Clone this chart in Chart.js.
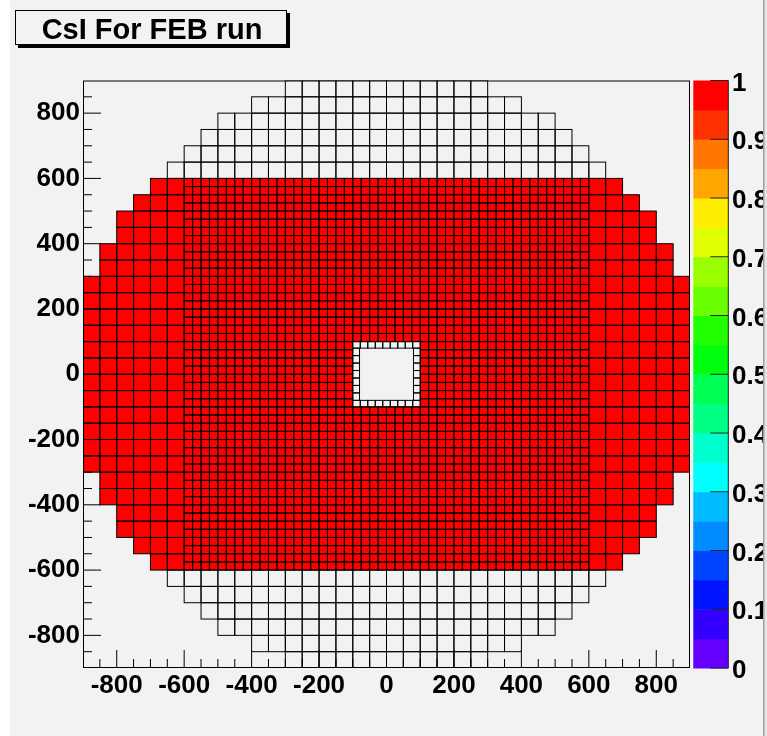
<!DOCTYPE html>
<html>
<head>
<meta charset="utf-8">
<title>CsI For FEB run</title>
<script src="https://cdn.jsdelivr.net/npm/chart.js@4.4.1/dist/chart.umd.min.js"></script>
<style>
  html, body { margin: 0; padding: 0; background: #f2f2f2; }
  canvas { display: block; }
</style>
</head>
<body>
<canvas id="csiMap" width="767" height="736"></canvas>
<script>
// axis ticks (mm) and colour scale ticks
const xTicks = [-800, -600, -400, -200, 0, 200, 400, 600, 800];
const yTicks = [-800, -600, -400, -200, 0, 200, 400, 600, 800];
const zTicks = [0, 0.1, 0.2, 0.3, 0.4, 0.5, 0.6, 0.7, 0.8, 0.9, 1];

// 20 contour colours, from 0 up to 1
const paletteColors = [
  "#6300ff", "#3300ff", "#0014ff", "#0044ff", "#008bff",
  "#00bbff", "#00fffc", "#00ffcc", "#00ff85", "#00ff55",
  "#00ff0e", "#22ff00", "#69ff00", "#99ff00", "#e0ff00",
  "#ffee00", "#ffa700", "#ff7700", "#ff3000", "#ff0000",
];

// large crystals (50 mm) left and right of the small block:
// lower edge of each row and how far out it reaches
const sideRowY = [
  -600, -550, -500, -450, -400, -350, -300, -250, -200, -150, -100, -50,
  0, 50, 100, 150, 200, 250, 300, 350, 400, 450, 500, 550,
];
const sideRowEdge = [
  700, 750, 800, 800, 850, 850, 900, 900, 900, 900, 900, 900,
  900, 900, 900, 900, 900, 900, 850, 850, 800, 800, 750, 700,
];
const sideRowValue = 1;

// large crystals above and below the small block
const capRowY = [-900, -850, -800, -750, -700, -650, 600, 650, 700, 750, 800, 850];
const capRowHalf = [300, 400, 500, 550, 600, 650, 650, 600, 550, 500, 400, 300];
const capRowValue = 0;

// small crystals (25 mm) inside |x|,|y| < 600, beam hole left out
const smallHalf = 600;
const holeHalf = 100;
const smallValue = 1;

// collar around the beam hole
const collarOuter = 100;
const collarInner = 80;
const collarRowCells = 9;
const collarColCells = 7;
const collarValue = 0;

const LARGE = 50;
const SMALL = 25;

const cells = [];
function addCell(x0, x1, y0, y1, v) {
  cells.push({ x: (x0 + x1) / 2, y: (y0 + y1) / 2, x0, x1, y0, y1, v });
}

sideRowY.forEach((y0, i) => {
  for (let x = -sideRowEdge[i]; x < -smallHalf; x += LARGE) {
    addCell(x, x + LARGE, y0, y0 + LARGE, sideRowValue);
    addCell(-x - LARGE, -x, y0, y0 + LARGE, sideRowValue);
  }
});

capRowY.forEach((y0, i) => {
  for (let x = -capRowHalf[i]; x < capRowHalf[i]; x += LARGE) {
    addCell(x, x + LARGE, y0, y0 + LARGE, capRowValue);
  }
});

for (let y = -smallHalf; y < smallHalf; y += SMALL) {
  for (let x = -smallHalf; x < smallHalf; x += SMALL) {
    const inHole = x >= -holeHalf && x < holeHalf && y >= -holeHalf && y < holeHalf;
    if (!inHole) addCell(x, x + SMALL, y, y + SMALL, smallValue);
  }
}

const rowStep = (2 * collarOuter) / collarRowCells;
for (let k = 0; k < collarRowCells; k++) {
  const x0 = -collarOuter + k * rowStep;
  addCell(x0, x0 + rowStep, collarInner, collarOuter, collarValue);
  addCell(x0, x0 + rowStep, -collarOuter, -collarInner, collarValue);
}
const colStep = (2 * collarInner) / collarColCells;
for (let k = 0; k < collarColCells; k++) {
  const y0 = -collarInner + k * colStep;
  addCell(-collarOuter, -collarInner, y0, y0 + colStep, collarValue);
  addCell(collarInner, collarOuter, y0, y0 + colStep, collarValue);
}

function colorFor(v) {
  const n = paletteColors.length;
  return paletteColors[Math.min(n - 1, Math.floor(v * n))];
}

const labelFont = { family: '"Liberation Sans", Arial, Helvetica, sans-serif', size: 26, weight: "bold" };

// page background, title box, right window edge
const framePlugin = {
  id: "framePlugin",
  beforeDraw(chart) {
    const ctx = chart.ctx;
    ctx.save();
    ctx.fillStyle = "#f2f2f2";
    ctx.fillRect(0, 0, chart.width, chart.height);
    ctx.fillStyle = "#ffffff";
    ctx.fillRect(0, 0, 10, chart.height);
    ctx.restore();
  },
  afterDraw(chart) {
    const ctx = chart.ctx;
    ctx.save();
    // title box with shadow
    ctx.fillStyle = "#000";
    ctx.fillRect(18, 13, 272, 35);
    ctx.fillStyle = "#f2f2f2";
    ctx.fillRect(15, 10, 272, 35);
    ctx.strokeStyle = "#000";
    ctx.lineWidth = 1;
    ctx.strokeRect(15.5, 10.5, 271, 34);
    ctx.fillStyle = "#000";
    ctx.font = 'bold 29px "Liberation Sans", Arial, Helvetica, sans-serif';
    ctx.textAlign = "center";
    ctx.textBaseline = "middle";
    ctx.fillText("CsI For FEB run", 152, 31);
    // window edge on the right
    ctx.fillStyle = "#e4e4e4";
    ctx.fillRect(763, 0, 4, chart.height);
    ctx.fillStyle = "#a0a0a0";
    ctx.fillRect(763, 0, 1.5, chart.height);
    ctx.restore();
  },
};

// crystal boxes, frame, inward ticks and the colour bar
const mapPlugin = {
  id: "mapPlugin",
  afterDatasetsDraw(chart) {
    const { ctx, chartArea: area } = chart;
    const xs = chart.scales.x;
    const ys = chart.scales.y;
    const zs = chart.scales.z;
    const data = chart.data.datasets[0].data;

    ctx.save();
    ctx.beginPath();
    ctx.rect(area.left, area.top, area.right - area.left, area.bottom - area.top);
    ctx.clip();

    const boxes = data.map((c) => {
      const l = xs.getPixelForValue(c.x0);
      const r = xs.getPixelForValue(c.x1);
      const t = ys.getPixelForValue(c.y1);
      const b = ys.getPixelForValue(c.y0);
      return { l, t, w: r - l, h: b - t, v: c.v };
    });
    boxes.forEach((b) => {
      if (b.v > 0) {
        ctx.fillStyle = colorFor(b.v);
        ctx.fillRect(b.l, b.t, b.w, b.h);
      }
    });
    ctx.strokeStyle = "#000";
    ctx.lineWidth = 1;
    boxes.forEach((b) => ctx.strokeRect(b.l, b.t, b.w, b.h));
    ctx.restore();

    ctx.save();
    ctx.strokeStyle = "#000";
    ctx.lineWidth = 1;
    // ticks every 50 mm, long ones on the labelled values
    ctx.beginPath();
    for (let v = -850; v <= 850; v += 50) {
      const len = v % 200 === 0 ? 18 : 9;
      const px = xs.getPixelForValue(v);
      ctx.moveTo(px, area.bottom);
      ctx.lineTo(px, area.bottom - len);
      const py = ys.getPixelForValue(v);
      ctx.moveTo(area.left, py);
      ctx.lineTo(area.left + len, py);
    }
    ctx.stroke();
    ctx.strokeRect(area.left + 0.5, area.top + 0.5, area.right - area.left - 1, area.bottom - area.top - 1);

    // colour bar
    const barL = zs.left + 3.3;
    const barR = zs.left + 38.3;
    const n = paletteColors.length;
    paletteColors.forEach((col, k) => {
      const yb = zs.getPixelForValue(k / n);
      const yt = zs.getPixelForValue((k + 1) / n);
      ctx.fillStyle = col;
      ctx.fillRect(barL, yt, barR - barL, yb - yt + 0.5);
    });
    ctx.beginPath();
    ctx.moveTo(barR, zs.top);
    ctx.lineTo(barR, zs.bottom);
    zTicks.forEach((v) => {
      const py = zs.getPixelForValue(v);
      ctx.moveTo(barR, py);
      ctx.lineTo(barR - 18, py);
    });
    ctx.strokeStyle = "#222";
    ctx.stroke();
    ctx.restore();
  },
};

const hiddenGrid = { display: false, drawTicks: false };

new Chart(document.getElementById("csiMap").getContext("2d"), {
  type: "scatter",
  data: {
    datasets: [{ data: cells, pointRadius: 0, pointHoverRadius: 0 }],
  },
  options: {
    responsive: false,
    animation: false,
    events: [],
    layout: { padding: { top: 80.5, left: 0, right: 0, bottom: 0 } },
    plugins: { legend: { display: false }, tooltip: { enabled: false } },
    scales: {
      x: {
        type: "linear",
        position: "bottom",
        min: -900,
        max: 900,
        grid: hiddenGrid,
        border: { display: false },
        afterBuildTicks: (s) => { s.ticks = xTicks.map((v) => ({ value: v })); },
        afterFit: (s) => { s.height = 68; },
        ticks: { font: labelFont, color: "#000", padding: 2, maxRotation: 0, autoSkip: false, callback: (v) => String(v) },
      },
      y: {
        type: "linear",
        position: "left",
        min: -900,
        max: 900,
        grid: hiddenGrid,
        border: { display: false },
        afterBuildTicks: (s) => { s.ticks = yTicks.map((v) => ({ value: v })); },
        afterFit: (s) => { s.width = 83; },
        ticks: { font: labelFont, color: "#000", padding: 3, autoSkip: false, callback: (v) => String(v) },
      },
      z: {
        type: "linear",
        axis: "y",
        position: "right",
        min: 0,
        max: 1,
        grid: hiddenGrid,
        border: { display: false },
        afterBuildTicks: (s) => { s.ticks = zTicks.map((v) => ({ value: v })); },
        afterFit: (s) => { s.width = 77; },
        ticks: {
          font: labelFont,
          color: "#000",
          padding: 42,
          labelOffset: 3,
          autoSkip: false,
          callback: (v) => String(Math.round(v * 10) / 10),
        },
      },
    },
  },
  plugins: [framePlugin, mapPlugin],
});
</script>
</body>
</html>
